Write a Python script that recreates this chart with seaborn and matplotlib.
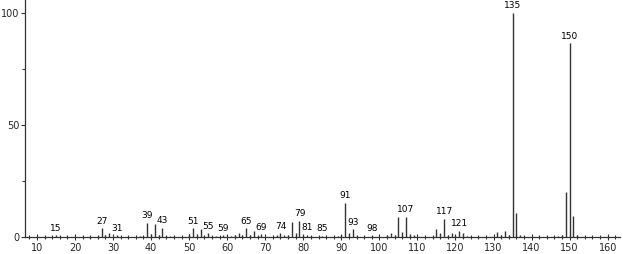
import matplotlib
matplotlib.use("Agg")
import matplotlib.pyplot as plt
import seaborn as sns
import pandas as pd

mz = [15, 26, 27, 28, 29, 31, 37, 38, 39, 40, 41, 42, 43, 44, 45, 50, 51, 52, 53, 54, 55, 57, 59,
      61, 62, 63, 64, 65, 66, 67, 68, 69, 73, 74, 75, 76, 77, 78, 79, 80, 81, 82, 85, 89, 90, 91, 92, 93, 94,
      98, 102, 103, 104, 105, 106, 107, 108, 109, 115, 116, 117, 118, 119, 120, 121, 122, 123,
      131, 132, 133, 134, 135, 136, 137, 147, 148, 149, 150, 151, 152]
intensity = [0.8, 0.6, 3.9, 0.8, 1.6, 0.8, 0.6, 0.6, 6.3, 1.5, 5.7, 0.8, 4.0, 0.6, 0.5, 1.2, 3.9, 1.5, 3.4, 0.6, 1.6, 0.6, 0.8,
             0.6, 0.8, 1.9, 0.8, 3.9, 1.0, 2.7, 0.6, 1.2, 0.8, 1.6, 0.8, 0.8, 6.8, 1.9, 7.3, 0.8, 1.0, 0.5, 0.5, 0.6, 0.8, 15.3, 1.9, 3.4, 0.6,
             0.6, 0.8, 1.9, 1.0, 8.8, 2.1, 9.1, 1.4, 0.8, 3.6, 1.9, 8.0, 0.8, 1.8, 1.0, 2.8, 1.9, 0.6,
             2.1, 1.0, 2.7, 1.0, 100.0, 10.6, 1.0, 0.5, 1.0, 20.0, 86.5, 9.5, 1.0]
labeled = [15, 27, 31, 39, 43, 51, 55, 59, 65, 69, 74, 79, 81, 85, 91, 93, 98, 107, 117, 121, 135, 150]

xticks_major = list(range(10, 161, 10))
yticks_major = [0, 50, 100]

df = pd.DataFrame({"mz": mz, "intensity": intensity})

sns.set_theme(style="ticks")
plt.rcParams["font.family"] = ["DejaVu Sans"]

fig = plt.figure(figsize=(6.23, 2.54), dpi=100)
ax = fig.add_axes([0.040, 0.067, 0.955, 0.933])

ax.vlines(df["mz"], 0, df["intensity"], color="#333333", linewidth=1.0)

lookup = dict(zip(mz, intensity))
for m in labeled:
    ax.text(m, lookup[m] + 1.2, str(m), ha="center", va="bottom", fontsize=6.5, color="black")

ax.set_xlim(6.85, 163.2)
ax.set_ylim(0, 105.8)
ax.set_xticks(xticks_major)
ax.set_xticks(list(range(8, 163, 2)), minor=True)
ax.set_yticks(yticks_major)
ax.set_yticks([25, 75], minor=True)
ax.tick_params(axis="x", which="major", direction="inout", length=5, width=0.8, labelsize=7, pad=2, color="#333333")
ax.tick_params(axis="x", which="minor", direction="inout", length=3, width=0.8, color="#333333")
ax.tick_params(axis="y", which="major", direction="out", length=3, width=0.8, labelsize=7, pad=1, color="#333333")
ax.tick_params(axis="y", which="minor", direction="out", length=2, width=0.8, color="#333333")
sns.despine(ax=ax, top=True, right=True)
for s in ["left", "bottom"]:
    ax.spines[s].set_linewidth(0.9)
    ax.spines[s].set_color("#333333")
ax.set_xlabel("")
ax.set_ylabel("")

fig.savefig("out.png", dpi=100)
